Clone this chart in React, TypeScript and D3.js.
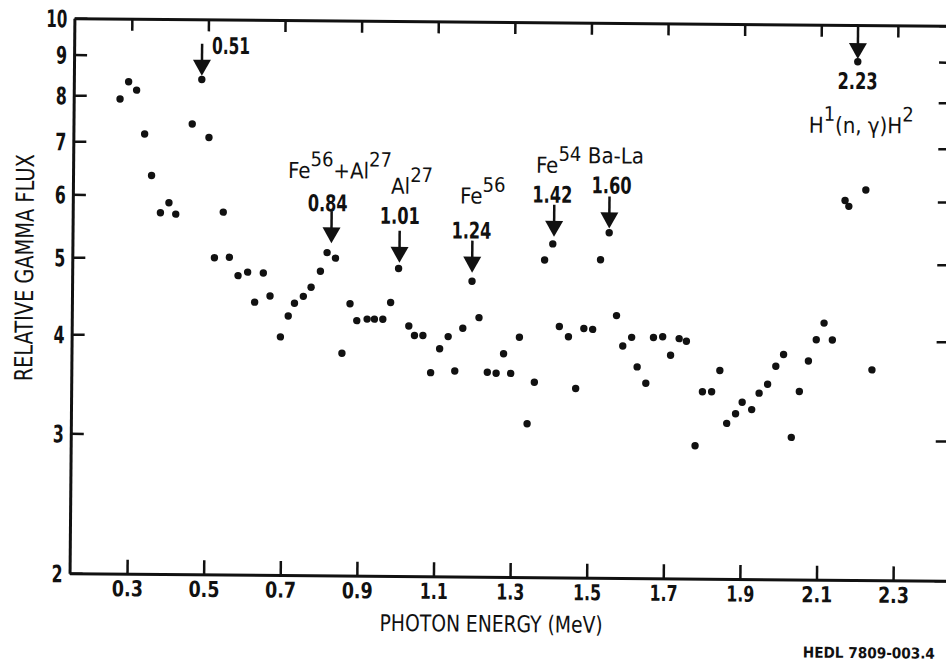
import React, { useEffect, useRef } from 'react';
import * as d3 from 'd3';

// photon energy (MeV) and relative gamma flux
const energy = [
  0.271, 0.293, 0.314, 0.336, 0.355, 0.379, 0.401, 0.419, 0.46, 0.484,
  0.504, 0.521, 0.543, 0.56, 0.583, 0.608, 0.627, 0.649, 0.667, 0.695,
  0.715, 0.731, 0.754, 0.774, 0.798, 0.815, 0.837, 0.856, 0.876, 0.894,
  0.921, 0.94, 0.962, 0.982, 1.002, 1.03, 1.045, 1.067, 1.088, 1.111,
  1.133, 1.151, 1.171, 1.194, 1.213, 1.236, 1.259, 1.278, 1.297, 1.319,
  1.341, 1.359, 1.383, 1.404, 1.423, 1.447, 1.467, 1.487, 1.51, 1.529,
  1.551, 1.572, 1.589, 1.612, 1.627, 1.65, 1.669, 1.693, 1.714, 1.736,
  1.755, 1.78, 1.798, 1.822, 1.843, 1.862, 1.885, 1.902, 1.927, 1.946,
  1.968, 1.989, 2.009, 2.031, 2.051, 2.074, 2.094, 2.114, 2.136, 2.166,
  2.176, 2.196, 2.22, 2.24,
];
const flux = [
  7.92, 8.33, 8.13, 7.16, 6.35, 5.7, 5.87, 5.68, 7.38, 8.4,
  7.1, 5.01, 5.72, 5.02, 4.76, 4.81, 4.41, 4.8, 4.49, 3.99,
  4.24, 4.4, 4.49, 4.61, 4.83, 5.1, 5.02, 3.81, 4.4, 4.19,
  4.21, 4.21, 4.21, 4.42, 4.88, 4.13, 4.02, 4.02, 3.61, 3.87,
  4.01, 3.63, 4.11, 4.71, 4.24, 3.62, 3.61, 3.82, 3.61, 4.01,
  3.12, 3.52, 5.02, 5.26, 4.14, 4.02, 3.46, 4.12, 4.11, 5.03,
  5.44, 4.28, 3.92, 4.02, 3.69, 3.52, 4.02, 4.03, 3.82, 4.01,
  3.98, 2.94, 3.44, 3.44, 3.66, 3.14, 3.23, 3.34, 3.27, 3.43,
  3.52, 3.71, 3.84, 3.02, 3.45, 3.77, 4.01, 4.21, 4.01, 6.01,
  5.91, 8.99, 6.2, 3.68,
];

const xTicks = [0.3, 0.5, 0.7, 0.9, 1.1, 1.3, 1.5, 1.7, 1.9, 2.1, 2.3];
const yTicks = [2, 3, 4, 5, 6, 7, 8, 9, 10];

// marked lines: where the arrow sits, flux at the arrow tip, labels
const peakEnergy = [0.484, 0.826, 1.004, 1.194, 1.407, 1.551, 2.196];
const peakTip = [8.49, 5.24, 4.96, 4.83, 5.37, 5.51, 9.06];
const peakValue = ['0.51', '0.84', '1.01', '1.24', '1.42', '1.60', '2.23'];
const peakSource = ['', 'Fe^56+Al^27', 'Al^27', 'Fe^56', 'Fe^54', 'Ba-La', 'H^1(n, γ)H^2'];

// label placement relative to the arrow tip, px
const valueOffset = [[29, -22], [-4, -32], [0, -39], [-1, -34], [-2, -34], [2, -35], [0, 30]];
const sourceOffset = [null, [8, -65], [12, -69], [10, -69], [4, -64], [6, -65], [4, 74]];

const W = 946;
const H = 664;
const FONT = "'DejaVu Sans Condensed', 'DejaVu Sans', sans-serif";
const INK = '#111';

const App = () => {
  const svgRef = useRef<SVGSVGElement>(null);

  useEffect(() => {
    const svg = d3.select(svgRef.current);
    svg.selectAll('*').remove();

    const left = 72, right = 953, top = 22, bottom = 577;
    const x = d3.scaleLinear().domain([0.15, 2.45]).range([left, right]);
    const y = d3.scaleLog().domain([2, 10]).range([bottom, top]);

    // the scanned figure is tilted slightly clockwise
    const g = svg.append('g').attr('transform', 'rotate(0.5, 509, 296)');

    const styleAxis = (a: any) => {
      a.select('.domain').attr('stroke', INK).attr('stroke-width', 3);
      a.selectAll('.tick line').attr('stroke', INK).attr('stroke-width', 2.5);
      a.selectAll('.tick text')
        .attr('fill', INK)
        .attr('font-family', FONT)
        .attr('font-weight', 'bold');
    };

    const xb = g.append('g')
      .attr('transform', `translate(0,${bottom})`)
      .call(d3.axisBottom(x).tickValues(xTicks).tickSize(-14).tickSizeOuter(0)
        .tickPadding(7).tickFormat(d3.format('.1f')));
    styleAxis(xb);
    xb.selectAll('.tick text')
      .attr('font-size', 22)
      .attr('lengthAdjust', 'spacingAndGlyphs')
      .attr('textLength', (d: any) => (d >= 1 && d < 2 ? 28 : 31));

    const xt = g.append('g')
      .attr('transform', `translate(0,${top})`)
      .call(d3.axisTop(x).tickValues(xTicks).tickSize(-12).tickSizeOuter(0).tickFormat(() => ''));
    styleAxis(xt);

    const yl = g.append('g')
      .attr('transform', `translate(${left},0)`)
      .call(d3.axisLeft(y).tickValues(yTicks).tickSize(-13).tickSizeOuter(0)
        .tickPadding(7).tickFormat(d3.format('d')));
    styleAxis(yl);
    yl.selectAll('.tick text')
      .attr('font-size', 24)
      .attr('dy', '0.36em')
      .attr('lengthAdjust', 'spacingAndGlyphs')
      .attr('textLength', (d: any) => (d >= 10 ? 21 : 11));

    const yr = g.append('g')
      .attr('transform', `translate(${right},0)`)
      .call(d3.axisRight(y).tickValues(yTicks).tickSize(-16).tickSizeOuter(0).tickFormat(() => ''));
    styleAxis(yr);

    // data points
    g.selectAll('circle.pt')
      .data(d3.zip(energy, flux))
      .enter()
      .append('circle')
      .attr('class', 'pt')
      .attr('cx', d => x(d[0]))
      .attr('cy', d => y(d[1]))
      .attr('r', 3.7)
      .attr('fill', INK);

    // arrows with line labels
    peakEnergy.forEach((e, i) => {
      const tx = x(e);
      const ty = y(peakTip[i]);
      g.append('line')
        .attr('x1', tx).attr('x2', tx)
        .attr('y1', ty - 32).attr('y2', ty - 12)
        .attr('stroke', INK).attr('stroke-width', 2.5);
      g.append('path')
        .attr('d', `M${tx - 9},${ty - 16}L${tx + 9},${ty - 16}L${tx},${ty}Z`)
        .attr('fill', INK);

      const [vx, vy] = valueOffset[i];
      g.append('text')
        .attr('x', tx + vx).attr('y', ty + vy)
        .attr('text-anchor', 'middle')
        .attr('font-family', FONT).attr('font-size', 23).attr('font-weight', 'bold')
        .attr('lengthAdjust', 'spacingAndGlyphs')
        .attr('textLength', i === 0 ? 38 : 40)
        .attr('fill', INK)
        .text(peakValue[i]);

      const off = sourceOffset[i];
      if (!off || !peakSource[i]) return;
      const t = g.append('text')
        .attr('x', tx + off[0]).attr('y', ty + off[1])
        .attr('text-anchor', 'middle')
        .attr('font-family', FONT).attr('font-size', 22)
        .attr('fill', INK);
      let raised = false;
      peakSource[i].split(/(\^\d+)/).filter(s => s).forEach(s => {
        const sup = s.startsWith('^');
        const shift = sup === raised ? 0 : sup ? -12 : 12;
        raised = sup;
        t.append('tspan')
          .attr('dy', shift)
          .attr('font-size', sup ? 20 : 22)
          .text(sup ? s.slice(1) : s);
      });
    });

    // axis titles
    g.append('text')
      .attr('x', 494).attr('y', 632)
      .attr('text-anchor', 'middle')
      .attr('font-family', FONT).attr('font-size', 23)
      .attr('lengthAdjust', 'spacingAndGlyphs').attr('textLength', 223)
      .attr('fill', INK)
      .text('PHOTON ENERGY (MeV)');

    g.append('text')
      .attr('transform', 'translate(33,272) rotate(-90)')
      .attr('text-anchor', 'middle')
      .attr('font-family', FONT).attr('font-size', 25)
      .attr('lengthAdjust', 'spacingAndGlyphs').attr('textLength', 227)
      .attr('fill', INK)
      .text('RELATIVE GAMMA FLUX');

    g.append('text')
      .attr('x', 806).attr('y', 655)
      .attr('font-family', FONT).attr('font-size', 15).attr('font-weight', 'bold')
      .attr('lengthAdjust', 'spacingAndGlyphs').attr('textLength', 132)
      .attr('fill', INK)
      .text('HEDL 7809-003.4');
  }, []);

  return (
    <svg
      ref={svgRef}
      width={W}
      height={H}
      style={{ position: 'fixed', left: 0, top: 0, background: '#fff' }}
    />
  );
};

export default App;
